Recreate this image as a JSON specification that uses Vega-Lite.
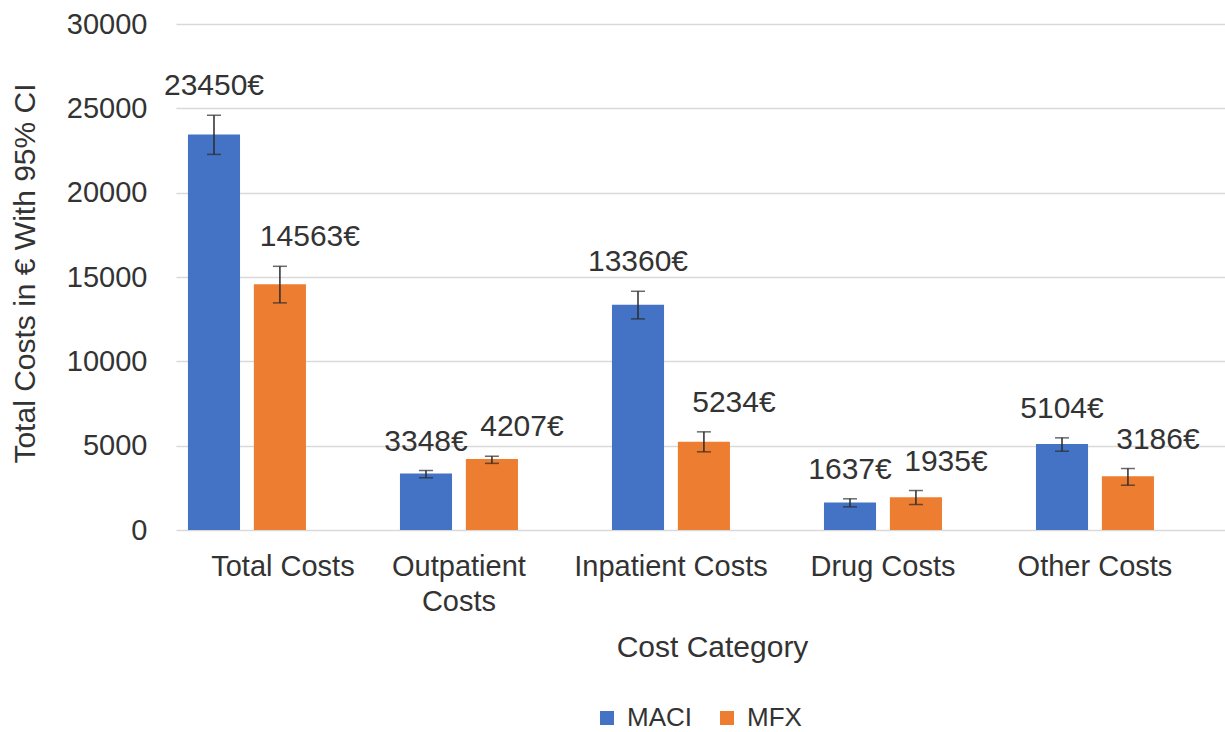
{
  "$schema": "https://vega.github.io/schema/vega-lite/v6.json",
  "width": 1049,
  "height": 506,
  "autosize": "none",
  "padding": {"left": 176, "top": 24, "right": 0, "bottom": 202},
  "background": "white",
  "config": {"view": {"stroke": null}, "font": "Liberation Sans"},
  "data": {
    "values": [
      {"category": "Total Costs", "group": "MACI", "value": 23450, "lo": 22270, "hi": 24590},
      {"category": "Total Costs", "group": "MFX", "value": 14563, "lo": 13465, "hi": 15634},
      {"category": "Outpatient Costs", "group": "MACI", "value": 3348, "lo": 3100, "hi": 3526},
      {"category": "Outpatient Costs", "group": "MFX", "value": 4207, "lo": 3950, "hi": 4374},
      {"category": "Inpatient Costs", "group": "MACI", "value": 13360, "lo": 12517, "hi": 14153},
      {"category": "Inpatient Costs", "group": "MFX", "value": 5234, "lo": 4635, "hi": 5820},
      {"category": "Drug Costs", "group": "MACI", "value": 1637, "lo": 1375, "hi": 1849},
      {"category": "Drug Costs", "group": "MFX", "value": 1935, "lo": 1511, "hi": 2341},
      {"category": "Other Costs", "group": "MACI", "value": 5104, "lo": 4670, "hi": 5464},
      {"category": "Other Costs", "group": "MFX", "value": 3186, "lo": 2655, "hi": 3645}
    ]
  },
  "transform": [{"calculate": "datum.value + '€'", "as": "label"}],
  "encoding": {
    "x": {
      "field": "category",
      "type": "nominal",
      "sort": ["Total Costs", "Outpatient Costs", "Inpatient Costs", "Drug Costs", "Other Costs"],
      "scale": {"paddingInner": 0.4434, "paddingOuter": 0.1957, "align": 0.144},
      "axis": {
        "title": "Cost Category",
        "titleFontSize": 30,
        "titleFontWeight": "normal",
        "titleColor": "#333333",
        "titleX": 536,
        "titleY": 126,
        "titleBaseline": "alphabetic",
        "titleAlign": "center",
        "labelFontSize": 29,
        "labelColor": "#333333",
        "labelAngle": 0,
        "labelPadding": 22,
        "labelLineHeight": 35,
        "labelLimit": 400,
        "labelOffset": {"condition": {"test": "datum.label == 'Total Costs'", "value": 36}, "value": 0},
        "labelExpr": "datum.label == 'Outpatient Costs' ? ['Outpatient', 'Costs'] : datum.label",
        "domain": false,
        "ticks": false,
        "tickSize": 0
      }
    },
    "xOffset": {
      "field": "group",
      "type": "nominal",
      "sort": ["MACI", "MFX"],
      "scale": {"paddingInner": 0.21, "paddingOuter": 0}
    }
  },
  "layer": [
    {
      "mark": {"type": "bar"},
      "encoding": {
        "y": {
          "field": "value",
          "type": "quantitative",
          "scale": {"domain": [0, 30000]},
          "axis": {
            "values": [0, 5000, 10000, 15000, 20000, 25000, 30000],
            "format": "d",
            "grid": true,
            "gridColor": "#d9d9d9",
            "gridWidth": 1.3,
            "domain": false,
            "ticks": false,
            "tickSize": 0,
            "labelFontSize": 29,
            "labelColor": "#333333",
            "labelPadding": 29,
            "title": "Total Costs in € With 95% CI",
            "titleFontSize": 30,
            "titleFontWeight": "normal",
            "titleColor": "#333333",
            "titleX": -151,
            "titleY": 249,
            "titleBaseline": "middle",
            "titleAlign": "center"
          }
        },
        "color": {
          "field": "group",
          "type": "nominal",
          "sort": ["MACI", "MFX"],
          "scale": {"domain": ["MACI", "MFX"], "range": ["#4472C4", "#ED7D31"]},
          "legend": {
            "title": null,
            "orient": "none",
            "direction": "horizontal",
            "legendX": 418,
            "legendY": 681,
            "symbolType": "square",
            "symbolSize": 196,
            "symbolStrokeWidth": 0,
            "labelFontSize": 26,
            "labelColor": "#333333",
            "labelOffset": 7,
            "columnPadding": 22
          }
        }
      }
    },
    {
      "mark": {"type": "rule", "color": "#2b2b2b", "strokeWidth": 1.5},
      "encoding": {
        "y": {"field": "lo", "type": "quantitative"},
        "y2": {"field": "hi"}
      }
    },
    {
      "mark": {"type": "tick", "color": "#2b2b2b", "size": 14, "thickness": 1.5},
      "encoding": {"y": {"field": "lo", "type": "quantitative"}}
    },
    {
      "mark": {"type": "tick", "color": "#2b2b2b", "size": 14, "thickness": 1.5},
      "encoding": {"y": {"field": "hi", "type": "quantitative"}}
    },
    {
      "transform": [{"filter": "datum.group == 'MACI'"}],
      "mark": {"type": "text", "fontSize": 30, "color": "#333333", "baseline": "middle", "dy": -29},
      "encoding": {
        "y": {"field": "hi", "type": "quantitative"},
        "text": {"field": "label", "type": "nominal"}
      }
    },
    {
      "transform": [{"filter": "datum.group == 'MFX'"}],
      "mark": {"type": "text", "fontSize": 30, "color": "#333333", "baseline": "middle", "dy": -29, "dx": 30},
      "encoding": {
        "y": {"field": "hi", "type": "quantitative"},
        "text": {"field": "label", "type": "nominal"}
      }
    }
  ]
}
